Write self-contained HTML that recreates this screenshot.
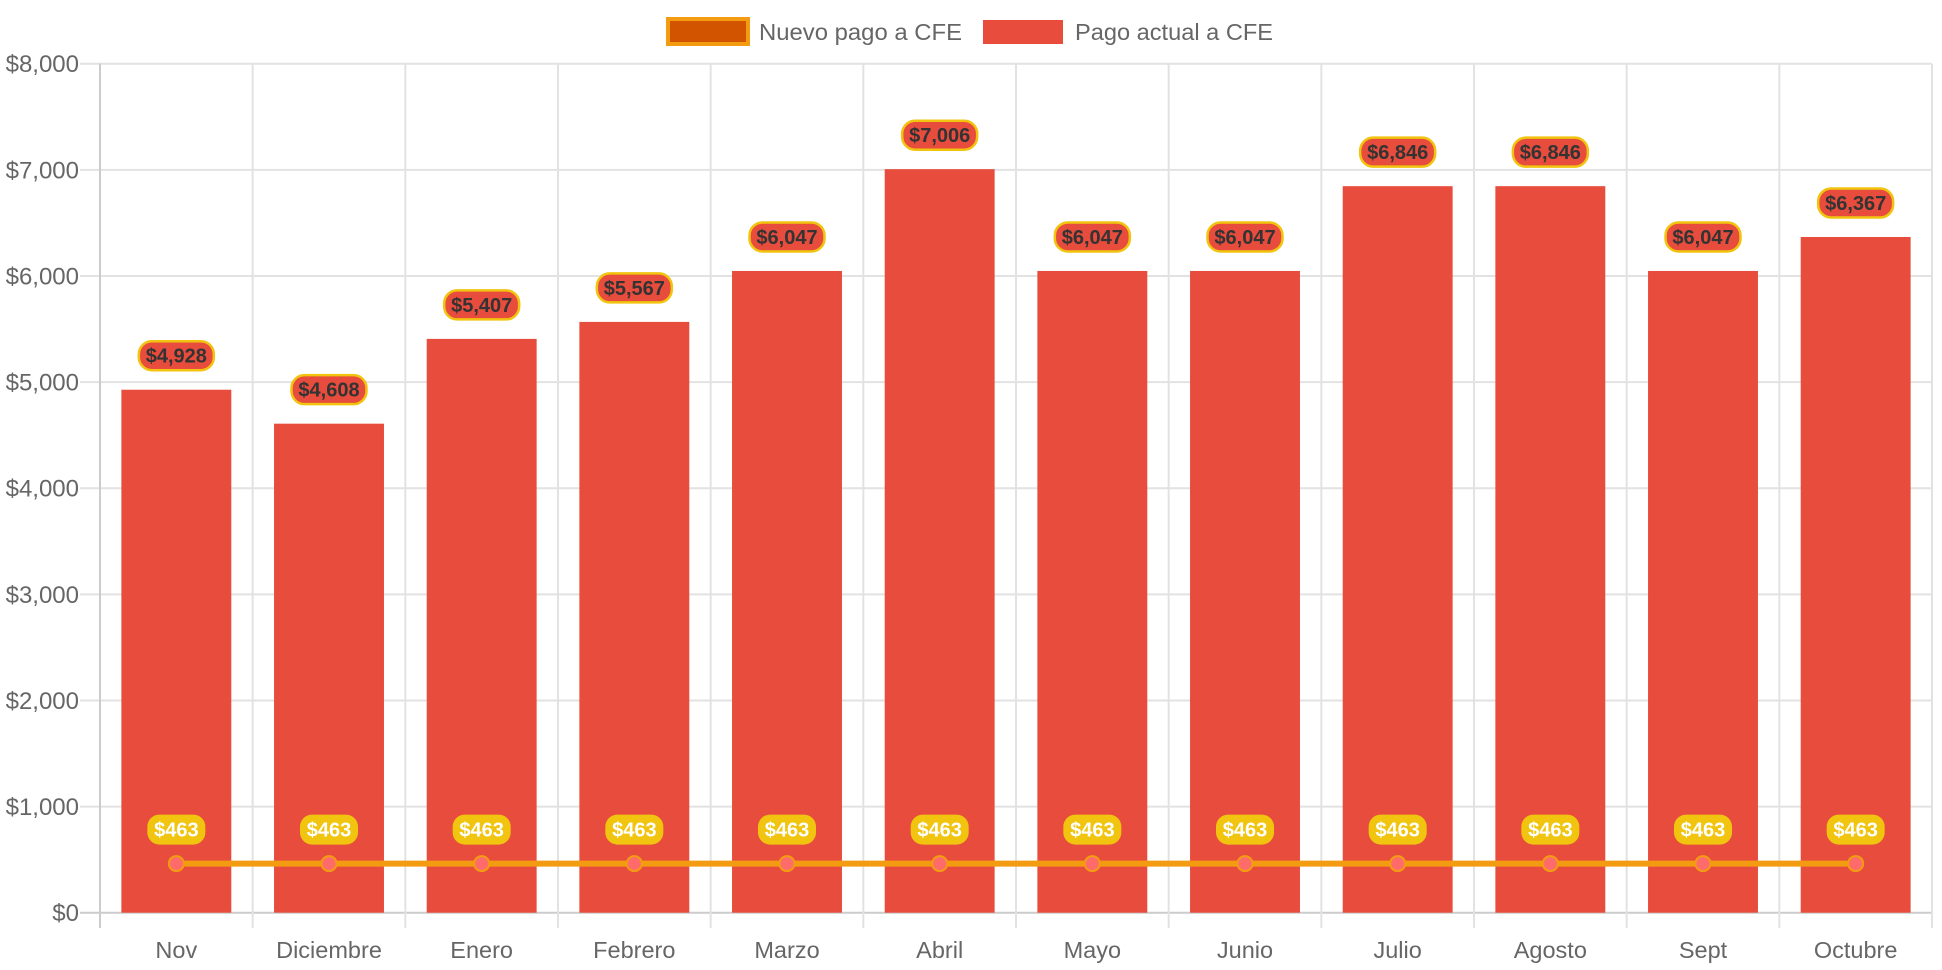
<!DOCTYPE html>
<html><head><meta charset="utf-8"><style>
html,body{margin:0;padding:0;background:#fff;}
svg{display:block;font-family:"Liberation Sans",Arial,sans-serif;}
</style></head><body>
<svg id="chart" width="1942" height="970" viewBox="0 0 1942 970" xmlns="http://www.w3.org/2000/svg">
<g>
  <rect x="668" y="19" width="80" height="25" fill="#d35400" stroke="#f39c12" stroke-width="4"/>
  <text x="759" y="40" font-size="23" fill="#666" textLength="203" lengthAdjust="spacingAndGlyphs">Nuevo pago a CFE</text>
  <rect x="983" y="20" width="80" height="24" fill="#e74c3c"/>
  <text x="1075" y="40" font-size="23" fill="#666" textLength="198" lengthAdjust="spacingAndGlyphs">Pago actual a CFE</text>
</g>
<g id="grid"></g><g id="bars"></g><g id="line"></g><g id="labels"></g>
</svg>
<script>
const categories=["Nov","Diciembre","Enero","Febrero","Marzo","Abril","Mayo","Junio","Julio","Agosto","Sept","Octubre"];
const actualValues=[4928,4608,5407,5567,6047,7006,6047,6047,6846,6846,6047,6367];
const nuevoValues=[463,463,463,463,463,463,463,463,463,463,463,463];
const yTicks=[0,1000,2000,3000,4000,5000,6000,7000,8000];
const NS="http://www.w3.org/2000/svg";
const L=100,R=1932,T=63.7,B=912.7,YMAX=8000;
const bw=(R-L)/categories.length;
const x=i=>L+bw*(i+0.5);
const y=v=>B-(v/YMAX)*(B-T);
const fmt=v=>"$"+v.toLocaleString("en-US");
function mk(tag,attrs,parent){const e=document.createElementNS(NS,tag);for(const k in attrs)e.setAttribute(k,attrs[k]);parent.appendChild(e);return e;}
const grid=document.getElementById("grid"),bars=document.getElementById("bars"),line=document.getElementById("line"),labels=document.getElementById("labels");
yTicks.forEach(t=>{
  const g=mk("line",{x1:L-20,x2:R,y1:y(t),y2:y(t),stroke:t===0?"#ccc":"#e2e2e2","stroke-width":2},grid);
  
  
  const tx=mk("text",{x:L-21,y:y(t)+8.5,"text-anchor":"end","font-size":24,fill:"#666"},grid);
  tx.textContent=fmt(t);
  
  
});
for(let i=0;i<=categories.length;i++){
  const gx=L+bw*i;
  const v=mk("line",{x1:gx,x2:gx,y1:T,y2:928,stroke:i===0?"#ccc":"#e2e2e2","stroke-width":2},grid);
  
  
}
categories.forEach((c,i)=>{
  const tx=mk("text",{x:x(i),y:958,"text-anchor":"middle","font-size":23.5,fill:"#666"},grid);
  tx.textContent=c;
  
  
});
const barW=bw*0.72;
actualValues.forEach((v,i)=>{
  const r=mk("rect",{x:x(i)-barW/2,y:y(v),width:barW,height:B-y(v),fill:"#e74c3c"},bars);
  
  
  const cy=y(v)-34;
  const lb=mk("rect",{x:x(i)-37.5,y:cy-14.5,width:75,height:29,rx:13,fill:"#e74c3c",stroke:"#f1c40f","stroke-width":2.5},labels);
  
  
  const t=mk("text",{x:x(i),y:cy+7,"text-anchor":"middle","font-size":20,"font-weight":"bold",fill:"#333"},labels);
  t.textContent=fmt(v);
  
  
});
const pts=nuevoValues.map((v,i)=>x(i)+","+y(v)).join(" ");
const pl=mk("polyline",{points:pts,fill:"none",stroke:"#f39c12","stroke-width":6},line);


nuevoValues.forEach((v,i)=>{
  const c=mk("circle",{cx:x(i),cy:y(v),r:7.5,fill:"#ff6b6b",stroke:"#f39c12","stroke-width":2},line);
  
  
  const cy=y(v)-34;
  const lb=mk("rect",{x:x(i)-29,y:cy-15,width:58,height:30,rx:12,fill:"#f1c40f"},labels);
  
  
  const t=mk("text",{x:x(i),y:cy+7,"text-anchor":"middle","font-size":20,"font-weight":"bold",fill:"#fff"},labels);
  t.textContent=fmt(v);
  
  
});
</script>
</body></html>
